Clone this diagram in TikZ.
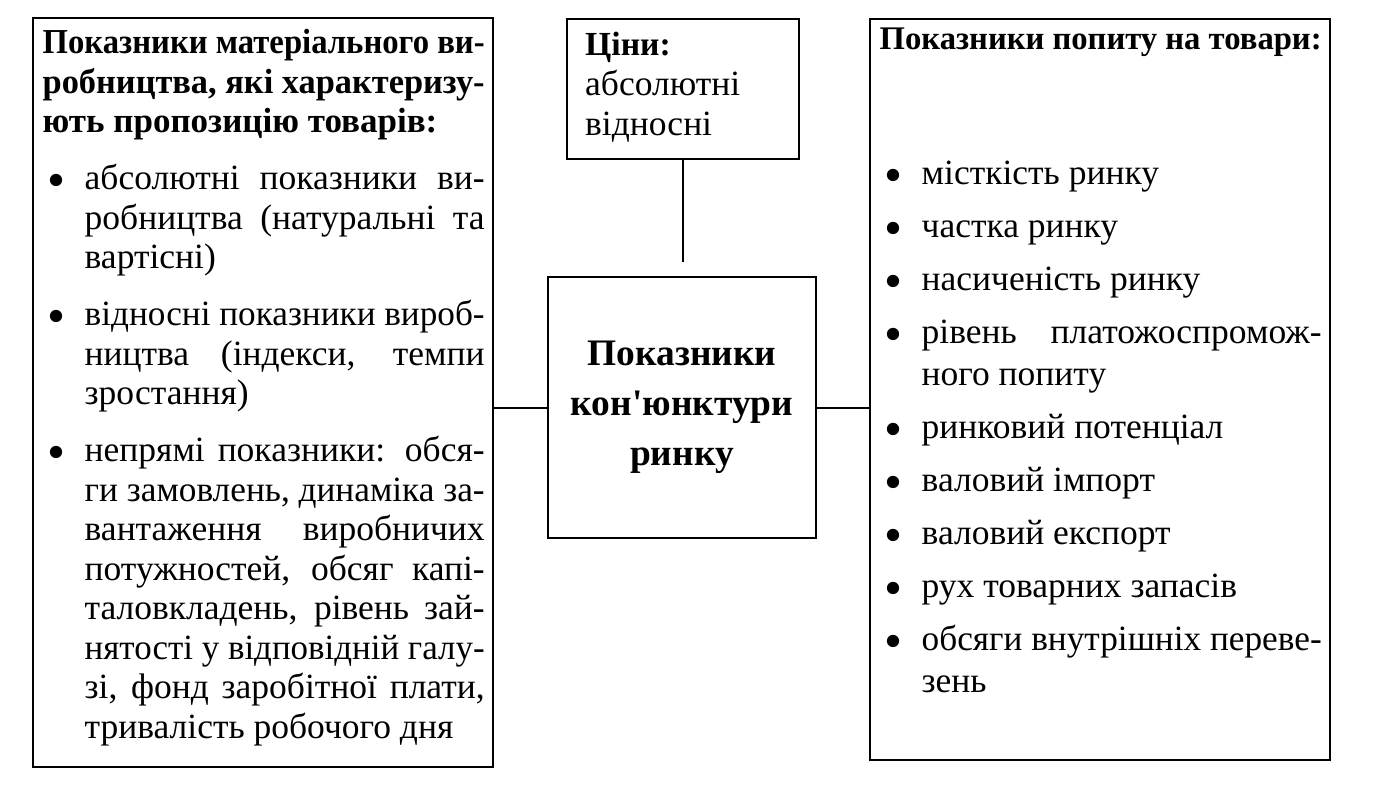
\documentclass[tikz,border=0pt]{standalone}
\usepackage{fontspec}
\setmainfont{Liberation Serif}
\newlength\bind \setlength\bind{42pt}
\newlength\bkern \setlength\bkern{5pt}
\newlength\tgt
\newsavebox\lbox
% fit text to a width: stretch spaces if short, squeeze if too long
\newcommand\FL[2]{\setlength\tgt{#1}\sbox\lbox{#2}%
  \ifdim\wd\lbox>\tgt\resizebox{\tgt}{\height}{\usebox\lbox}\else\hbox to \tgt{#2}\fi}
\newcommand\BUL{\hbox to \bind{\kern\bkern\raisebox{-7.5pt}{\scalebox{1.45}{\textbullet}}\hss}}
% justified full-width line
\newcommand\JL[1]{\hbox to \hsize{\FL{\hsize}{#1}}}
% natural line
\newcommand\NL[1]{\hbox to \hsize{#1\hss}}
% bullet + justified text
\newcommand\BJ[1]{\hbox to \hsize{\BUL\FL{\dimexpr\hsize-\bind\relax}{#1}}}
% bullet + natural text
\newcommand\BN[1]{\hbox to \hsize{\BUL#1\hss}}
% continuation justified
\newcommand\CJ[1]{\hbox to \hsize{\kern\bind\FL{\dimexpr\hsize-\bind\relax}{#1}}}
% continuation natural
\newcommand\CN[1]{\hbox to \hsize{\kern\bind #1\hss}}
\begin{document}
\begin{tikzpicture}[x=1pt,y=-1pt,
  box/.style={draw, line width=2pt, inner sep=0pt},
  txt/.style={inner sep=0pt, anchor=base west},
  link/.style={line width=2pt}]
\useasboundingbox (0,0) rectangle (1379,794);
\fill[white] (0,0) rectangle (1379,794);

% boxes
\node[box, minimum width=460pt, minimum height=749pt] (left) at (263,392.5) {};
\node[box, minimum width=232pt, minimum height=140pt] (prices) at (683,89) {};
\node[box, minimum width=460pt, minimum height=741pt] (right) at (1100,389.5) {};
\node[box, minimum width=268pt, minimum height=261pt, align=center,
      font=\fontsize{37.4}{50}\selectfont\bfseries] (core) at (682,407.5)
      {Показники\\кон\textquotesingle юнктури\\ринку};

% left text
\node[txt] (lefttext) at (42.5,54) {\parbox[t]{442pt}{%
\fontsize{35}{39.5}\selectfont\bfseries
\JL{Показники матеріального ви-}
\JL{робництва, які характеризу-}
\NL{ють пропозицію товарів:}
\fontsize{35.5}{39.5}\selectfont\mdseries
\vskip17.5pt
\BJ{абсолютні показники ви-}
\CJ{робництва (натуральні та}
\CN{вартісні)}
\vskip17.5pt
\BJ{відносні показники вироб-}
\CJ{ництва (індекси, темпи}
\CN{зростання)}
\vskip17.5pt
\BJ{непрямі показники: обся-}
\CJ{ги замовлень, динаміка за-}
\CJ{вантаження виробничих}
\CJ{потужностей, обсяг капі-}
\CJ{таловкладень, рівень зай-}
\CJ{нятості у відповідній галу-}
\CJ{зі, фонд заробітної плати,}
\CN{тривалість робочого дня}
}};

% prices text
\node[txt] (pricestext) at (585,56) {\parbox[t]{200pt}{%
\fontsize{33.7}{41}\selectfont
\NL{\bfseries Ціни:}
\fontsize{35.5}{40}\selectfont
\NL{абсолютні}
\NL{відносні}
}};

% right text
\node[txt] (righttext) at (879.5,50) {\parbox[t]{442pt}{%
\fontsize{33}{42}\selectfont\bfseries
\JL{Показники попиту на товари:}
\fontsize{35.5}{42}\selectfont\mdseries
\vskip93pt
\BN{місткість ринку}
\vskip11pt
\BN{частка ринку}
\vskip11pt
\BN{насиченість ринку}
\vskip11pt
\BJ{рівень платожоспромож-}
\CN{ного попиту}
\vskip11pt
\BN{ринковий потенціал}
\vskip11pt
\BN{валовий імпорт}
\vskip11pt
\BN{валовий експорт}
\vskip11pt
\BN{рух товарних запасів}
\vskip11pt
\BJ{обсяги внутрішніх переве-}
\CN{зень}
}};

% connectors
\coordinate (lvl) at (0,262);
\coordinate (stub) at (prices.south |- lvl);
\draw[link] (prices.south) -- (stub);
\draw[link] (core.west) -- (core.west -| left.east);
\draw[link] (core.east) -- (core.east -| right.west);
\end{tikzpicture}
\end{document}
